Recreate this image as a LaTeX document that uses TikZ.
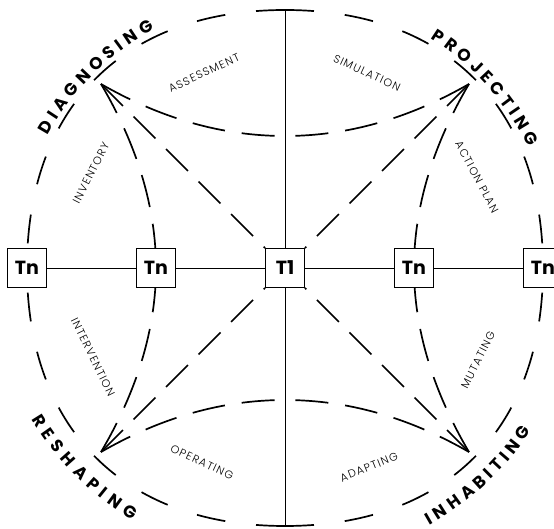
\documentclass[tikz,border=0pt]{standalone}
\usepackage{fontspec}
\setmainfont{Poppins}
\newfontfamily\thinfont{Poppins Light}[LetterSpace=11]
\usetikzlibrary{decorations.text,backgrounds}
\newcommand\stagefont{\fontsize{17pt}{17pt}\selectfont\bfseries}
\tikzset{
  tbox/.style={draw,line width=.9pt,fill=white,minimum size=39pt,inner sep=0pt,font=\fontsize{19pt}{19pt}\selectfont\bfseries},
  axis/.style={line width=.8pt},
  ring/.style={line width=1.7pt,dash pattern=on 29pt off 31pt},
  flow/.style={line width=1.7pt,dash pattern=on 33pt off 17pt},
  ray/.style={flow,dash pattern=on 31pt off 15pt},
  lab/.style={font=\thinfont\fontsize{11pt}{11pt}\selectfont,inner sep=0pt},
  arclab/.style={decorate,decoration={text along path,text align={fit to path stretching spaces},text={|\stagefont|#1}}}
}
\begin{document}
\begin{tikzpicture}[x=1pt,y=1pt]
  \useasboundingbox (-285,-261) rectangle (269,268);
  \clip (-285,-261) rectangle (269,268);
  % stages on the horizontal axis
  \node[tbox] (t1) at (0,0) {T1};
  \node[tbox] (tnl) at (-129,0) {Tn};
  \node[tbox] (tnll) at (-258,0) {Tn};
  \node[tbox] (tnr) at (129,0) {Tn};
  \node[tbox] (tnrr) at (258,0) {Tn};
  \coordinate (top) at (0,258); \coordinate (bot) at (0,-258);
  \coordinate (mt) at (0,132); \coordinate (mb) at (0,-132);
  \coordinate (dg) at (-184,184); \coordinate (pj) at (184,184);
  \coordinate (rs) at (-184,-184); \coordinate (ih) at (184,-184);
  \begin{scope}[on background layer]
    \draw[axis] (top) -- (t1) -- (bot);
    \draw[axis] (tnll) -- (tnl) -- (t1) -- (tnr) -- (tnrr);
    % outer ring, four quarters
    \draw[ring] (top) .. controls (-161,258) and (-258,161) .. (tnll.center);
    \draw[ring] (top) .. controls (161,258) and (258,161) .. (tnrr.center);
    \draw[ring] (bot) .. controls (-161,-258) and (-258,-161) .. (tnll.center);
    \draw[ring] (bot) .. controls (161,-258) and (258,-161) .. (tnrr.center);
    % diagnosing
    \draw[flow] (dg) .. controls (-123,149) and (-62,132) .. (mt);
    \draw[flow] (dg) .. controls (-148,123) and (-129,61) .. (tnl.center);
    \draw[ray] (dg) -- (t1.north west);
    % projecting
    \draw[flow] (pj) .. controls (123,149) and (62,132) .. (mt);
    \draw[flow] (pj) .. controls (148,123) and (129,61) .. (tnr.center);
    \draw[ray] (pj) -- (t1.north east);
    % reshaping
    \draw[flow] (rs) .. controls (-123,-149) and (-62,-132) .. (mb);
    \draw[flow] (rs) .. controls (-148,-123) and (-129,-61) .. (tnl.center);
    \draw[ray] (rs) -- (t1.south west);
    % inhabiting
    \draw[flow] (ih) .. controls (123,-149) and (62,-132) .. (mb);
    \draw[flow] (ih) .. controls (148,-123) and (129,-61) .. (tnr.center);
    \draw[ray] (ih) -- (t1.south east);
  \end{scope}
  % phase names
  \path[arclab={D I A G N O S I N G}] (150.85:272) arc[start angle=150.85,end angle=118.65,radius=272];
  \path[arclab={P R O J E C T I N G}] (57.65:272) arc[start angle=57.65,end angle=26.45,radius=272];
  \path[arclab={R E S H A P I N G}] (210.9:295) arc[start angle=210.9,end angle=238.8,radius=295];
  \path[arclab={I N H A B I T I N G}] (299.4:295) arc[start angle=299.4,end angle=326.5,radius=295];
  % transitions
  \node[lab,rotate=25] (assess) at (-81,195) {ASSESSMENT};
  \node[lab,rotate=-25] (simul) at (82,195) {SIMULATION};
  \node[lab,rotate=63] (invent) at (-194,95) {INVENTORY};
  \node[lab,rotate=-62] (actplan) at (192,91) {ACTION PLAN};
  \node[lab,rotate=-64] (interv) at (-192,-89) {INTERVENTION};
  \node[lab,rotate=63] (mutat) at (193,-92) {MUTATING};
  \node[lab,rotate=-25] (operat) at (-83,-194) {OPERATING};
  \node[lab,rotate=22] (adapt) at (84,-199) {ADAPTING};
\end{tikzpicture}
\end{document}
